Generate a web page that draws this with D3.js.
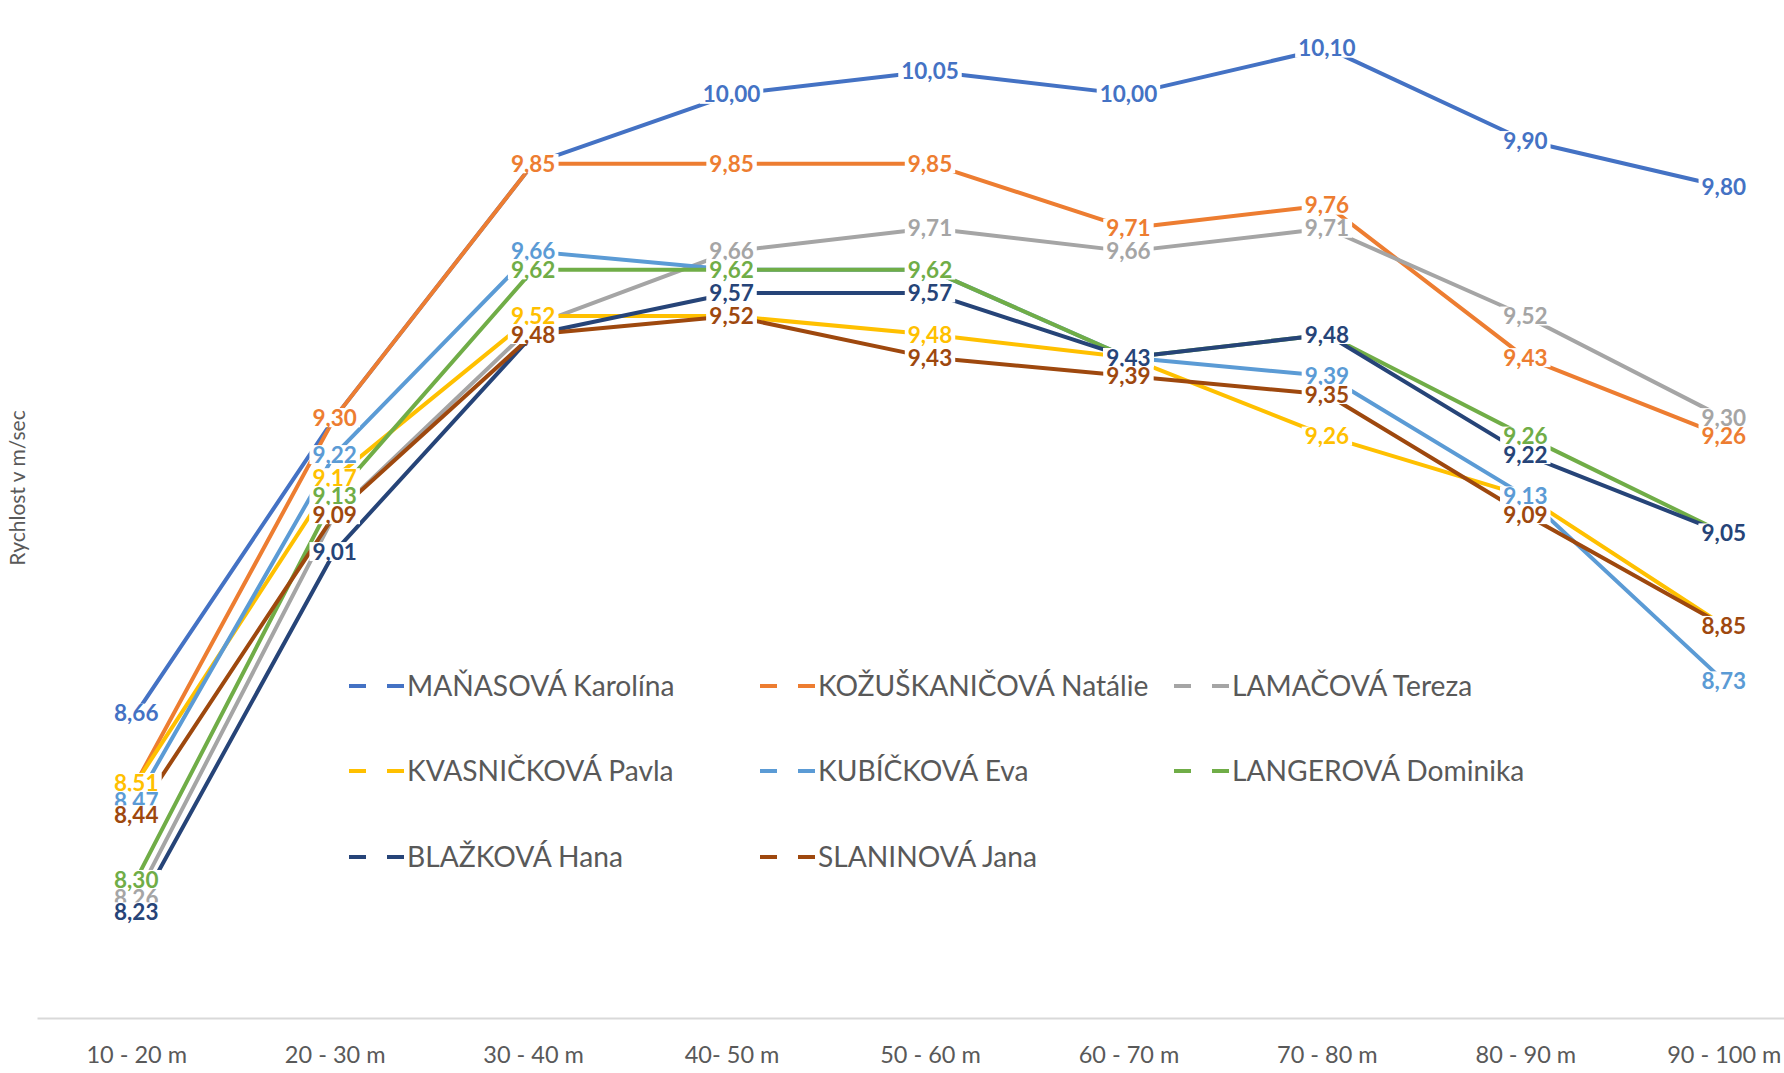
<!DOCTYPE html>
<html>
<head>
<meta charset="utf-8">
<script src="https://cdn.jsdelivr.net/npm/d3@7"></script>
<style>
  body { margin: 0; background: #fff; }
  svg { display: block; }
  text { font-family: Lato, "Open Sans", sans-serif; }
</style>
</head>
<body>
<div id="chart"></div>
<script>
// kategorie (úseky trati)
const categories = ['10 - 20 m', '20 - 30 m', '30 - 40 m', '40- 50 m', '50 - 60 m',
  '60 - 70 m', '70 - 80 m', '80 - 90 m', '90 - 100 m'];

// rychlost v m/sec na jednotlivých úsecích
const manasova      = [8.66, 9.30, 9.85, 10.00, 10.05, 10.00, 10.10, 9.90, 9.80];
const kozuskanicova = [8.51, 9.30, 9.85, 9.85, 9.85, 9.71, 9.76, 9.43, 9.26];
const lamacova      = [8.26, 9.09, 9.50, 9.66, 9.71, 9.66, 9.71, 9.52, 9.30];
const kvasnickova   = [8.51, 9.17, 9.52, 9.52, 9.48, 9.43, 9.26, 9.13, 8.85];
const kubickova     = [8.47, 9.22, 9.66, 9.62, 9.62, 9.43, 9.39, 9.13, 8.73];
const langerova     = [8.30, 9.13, 9.62, 9.62, 9.62, 9.43, 9.48, 9.26, 9.05];
const blazkova      = [8.23, 9.01, 9.48, 9.57, 9.57, 9.43, 9.48, 9.22, 9.05];
const slaninova     = [8.44, 9.09, 9.48, 9.52, 9.43, 9.39, 9.35, 9.09, 8.85];

const names = ['MAŇASOVÁ Karolína', 'KOŽUŠKANIČOVÁ Natálie', 'LAMAČOVÁ Tereza',
  'KVASNIČKOVÁ Pavla', 'KUBÍČKOVÁ Eva', 'LANGEROVÁ Dominika', 'BLAŽKOVÁ Hana', 'SLANINOVÁ Jana'];
const colors = ['#4472C4', '#ED7D31', '#A5A5A5', '#FFC000', '#5B9BD5', '#70AD47', '#264478', '#9E480E'];

const series = [manasova, kozuskanicova, lamacova, kvasnickova, kubickova, langerova, blazkova, slaninova]
  .map((values, i) => ({ name: names[i], color: colors[i], values }));

const width = 1784;
const height = 1073;

const svg = d3.select('#chart')
  .append('svg')
  .attr('width', width)
  .attr('height', height);

// osa x je širší než obrázek, poslední kategorie je u pravého okraje
const x = d3.scalePoint()
  .domain(categories)
  .range([37, 1823])
  .padding(0.5);

const y = d3.scaleLinear()
  .domain([8, 10.2])
  .range([1018, 2]);

const cz = d3.formatLocale({ decimal: ',', thousands: ' ', grouping: [3], currency: ['', ' Kč'] });
const fmt = cz.format('.2f');

// osa x
const xAxis = svg.append('g')
  .attr('transform', `translate(0,${y(8)})`)
  .call(d3.axisBottom(x).tickSize(0).tickPadding(28));

xAxis.select('.domain')
  .attr('stroke', '#d9d9d9')
  .attr('stroke-width', 2);

xAxis.selectAll('text')
  .attr('fill', '#595959')
  .style('font-size', '23.5px')
  .style('font-family', 'Lato, sans-serif');

// popisek osy y
svg.append('text')
  .attr('transform', 'translate(25,488) rotate(-90)')
  .attr('text-anchor', 'middle')
  .attr('fill', '#595959')
  .style('font-size', '21px')
  .text('Rychlost v m/sec');

const line = d3.line()
  .x((d, i) => x(categories[i]))
  .y(d => y(d));

// čáry
svg.append('g')
  .selectAll('path')
  .data(series)
  .join('path')
  .attr('d', d => line(d.values))
  .attr('fill', 'none')
  .attr('stroke', d => d.color)
  .attr('stroke-width', 4)
  .attr('stroke-linejoin', 'round');

// popisky hodnot s bílým pozadím
const labels = svg.append('g');
series.forEach(s => {
  s.values.forEach((v, i) => {
    const g = labels.append('g')
      .attr('transform', `translate(${x(categories[i])},${y(v)})`);
    const rect = g.append('rect').attr('fill', '#fff');
    const t = g.append('text')
      .attr('text-anchor', 'middle')
      .attr('dy', '0.36em')
      .attr('fill', s.color)
      .style('font-size', '22.5px')
      .style('font-weight', 'bold')
      .text(fmt(v));
    const w = t.node().getComputedTextLength();
    rect.attr('x', -w / 2 - 3)
      .attr('y', -9.5)
      .attr('width', w + 6)
      .attr('height', 19);
  });
});

// legenda
const legendCols = [349, 760, 1174];
const legendRows = [686, 771, 857];

const legend = svg.append('g')
  .selectAll('g')
  .data(series)
  .join('g')
  .attr('transform', (d, i) => `translate(${legendCols[i % 3]},${legendRows[Math.floor(i / 3)]})`);

legend.append('line')
  .attr('x1', 0).attr('x2', 17)
  .attr('stroke', d => d.color)
  .attr('stroke-width', 4);

legend.append('line')
  .attr('x1', 38).attr('x2', 55)
  .attr('stroke', d => d.color)
  .attr('stroke-width', 4);

legend.append('text')
  .attr('x', 58)
  .attr('dy', '0.35em')
  .attr('fill', '#595959')
  .style('font-size', '28.2px')
  .text(d => d.name);
</script>
</body>
</html>
